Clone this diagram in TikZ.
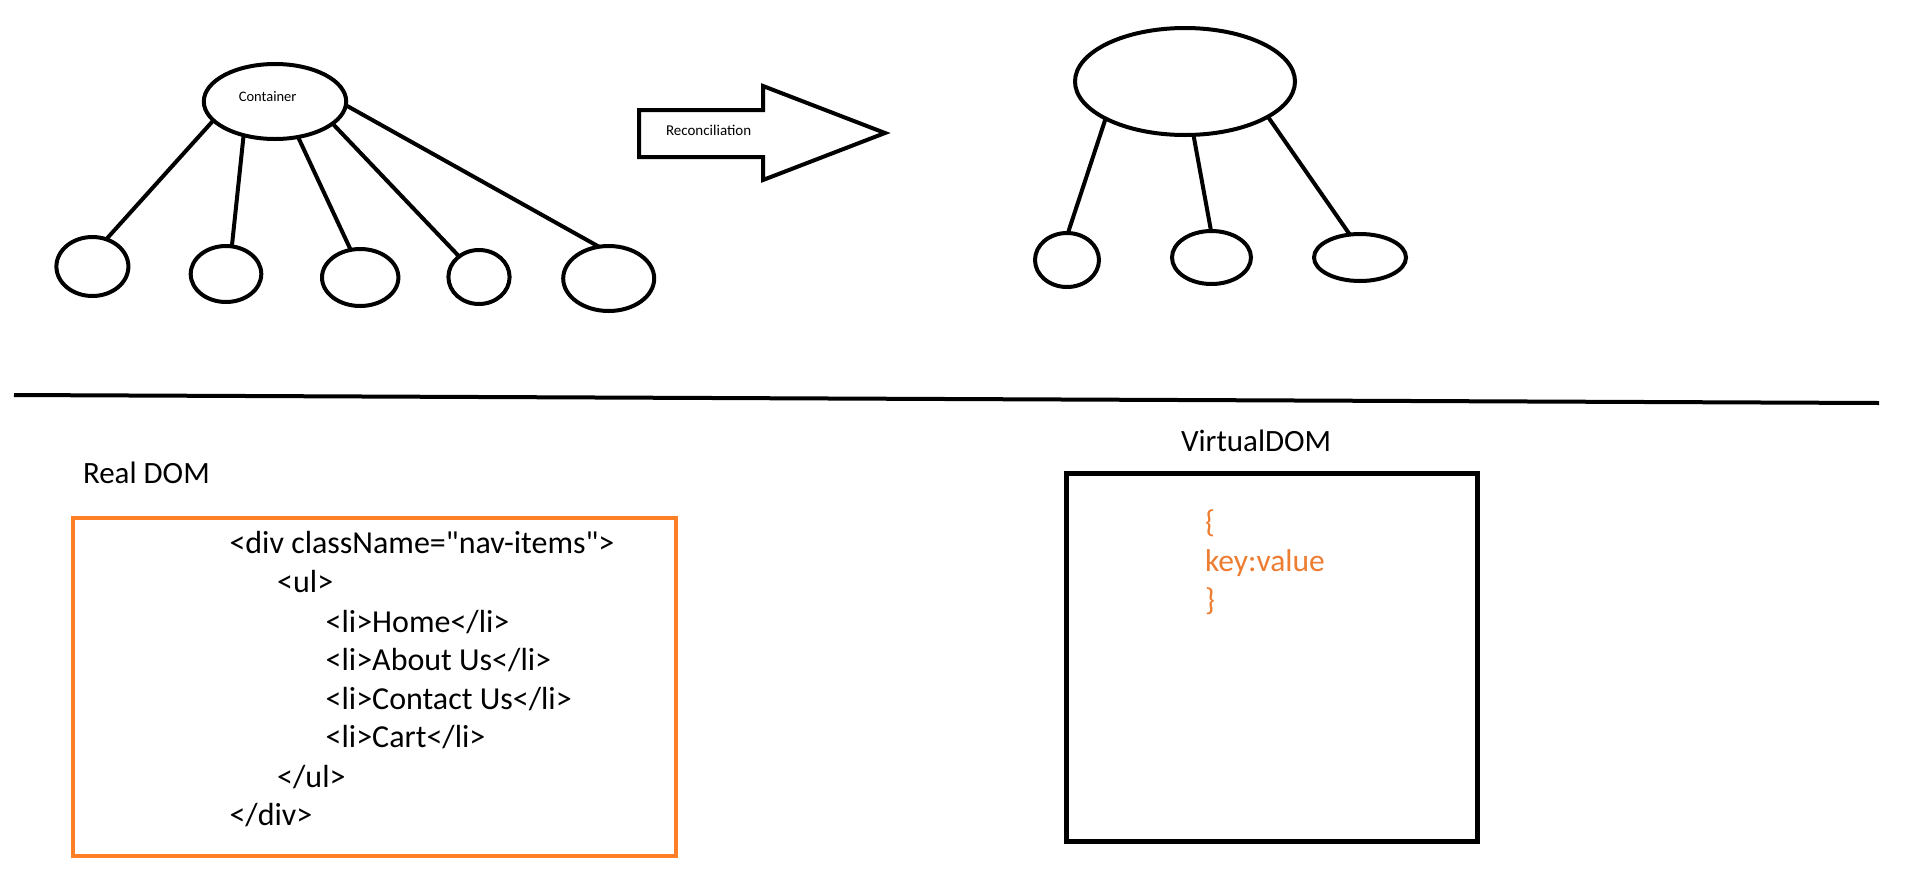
\documentclass[tikz,border=0pt]{standalone}
\usepackage{fontspec}
\setmainfont[Ligatures=TeXOff]{Carlito}
\usetikzlibrary{shapes.geometric}
\definecolor{boxorange}{HTML}{FF7F27}
\definecolor{txtorange}{HTML}{ED7D31}
\begin{document}
\begin{tikzpicture}[x=1pt,y=-1pt,
  bub/.style={draw,ellipse,line width=4pt,inner sep=0pt,outer sep=0pt},
  link/.style={line width=4pt},
  lbl/.style={anchor=base west,inner sep=0pt,outer sep=0pt},
  code/.style={lbl,font=\fontsize{32}{32}\selectfont},
  big/.style={lbl,font=\fontsize{31}{31}\selectfont},
  orng/.style={lbl,font=\fontsize{31.5}{31.5}\selectfont,text=txtorange}
]
\useasboundingbox[fill=white] (0,0) rectangle (1914,876);

% left tree
\node[bub,minimum width=142.4pt,minimum height=75pt] (root) at (275,101.5) {};
\node[lbl,font=\fontsize{14.5}{14.5}\selectfont] (rootlbl) at (238.8,101.7) {Container};
\node[bub,minimum width=72pt,minimum height=59pt] (c1) at (92.4,266.5) {};
\node[bub,minimum width=70.6pt,minimum height=56pt] (c2) at (226,274) {};
\node[bub,minimum width=76.4pt,minimum height=57pt] (c3) at (360.2,277.5) {};
\node[bub,minimum width=61.2pt,minimum height=54pt] (c4) at (479,277) {};
\node[bub,minimum width=91pt,minimum height=65pt] (c5) at (608.7,278.5) {};
\draw[link] (root.197.6) -- (c1.63.3);
\draw[link] (root.227.2) -- (c2.78.8);
\draw[link] (root.303.9) -- (c3.109.4);
\draw[link] (root.339.7) -- (c4.134.8);
\draw[link] (root.357.3) -- (c5.107.7);

% arrow
\draw[line width=4pt,line join=miter] (639,110) -- (763,110) -- (763,86) -- (885,133)
  -- (763,180) -- (763,157) -- (639,157) -- cycle;
\node[lbl,font=\fontsize{15}{15}\selectfont] (recon) at (666,135) {Reconciliation};

% right tree
\node[bub,minimum width=220pt,minimum height=107pt] (root2) at (1185,81.5) {};
\node[bub,minimum width=64pt,minimum height=54pt] (d1) at (1067,260) {};
\node[bub,minimum width=79pt,minimum height=53pt] (d2) at (1211.5,257.5) {};
\node[bub,minimum width=92pt,minimum height=47pt] (d3) at (1360,257.5) {};
\draw[link] (root2.205) -- (d1.88);
\draw[link] (root2.279) -- (d2.91);
\draw[link] (root2.337) -- (d3.114);

% divider
\coordinate (divL) at (14,395);
\coordinate (divR) at (1879,403);
\draw[line width=4pt] (divL) -- (divR);

% Real DOM
\node[big] (realdom) at (83,483) {Real DOM};
\node[draw=boxorange,line width=4pt,minimum width=603.3pt,minimum height=338pt,inner sep=0pt] (realbox) at (374.4,687) {};
\node[code] (l1) at (229.5,553) {<div className="nav-items">};
\node[code] (l2) at (277.2,592) {<ul>};
\node[code] (l3) at (325.7,632) {<li>Home</li>};
\node[code] (l4) at (325.7,670) {<li>About Us</li>};
\node[code] (l5) at (325.7,709) {<li>Contact Us</li>};
\node[code] (l6) at (325.7,747) {<li>Cart</li>};
\node[code] (l7) at (277.2,787) {</ul>};
\node[code] (l8) at (229.5,825) {</div>};

% Virtual DOM
\node[big] (vdom) at (1181,451) {VirtualDOM};
\node[draw,line width=5pt,minimum width=411pt,minimum height=368pt,inner sep=0pt] (vbox) at (1272,657.5) {};
\node[orng] (o1) at (1205,532) {\{};
\node[orng] (o2) at (1205,571) {key:value};
\node[orng] (o3) at (1205,610) {\}};
\end{tikzpicture}
\end{document}
